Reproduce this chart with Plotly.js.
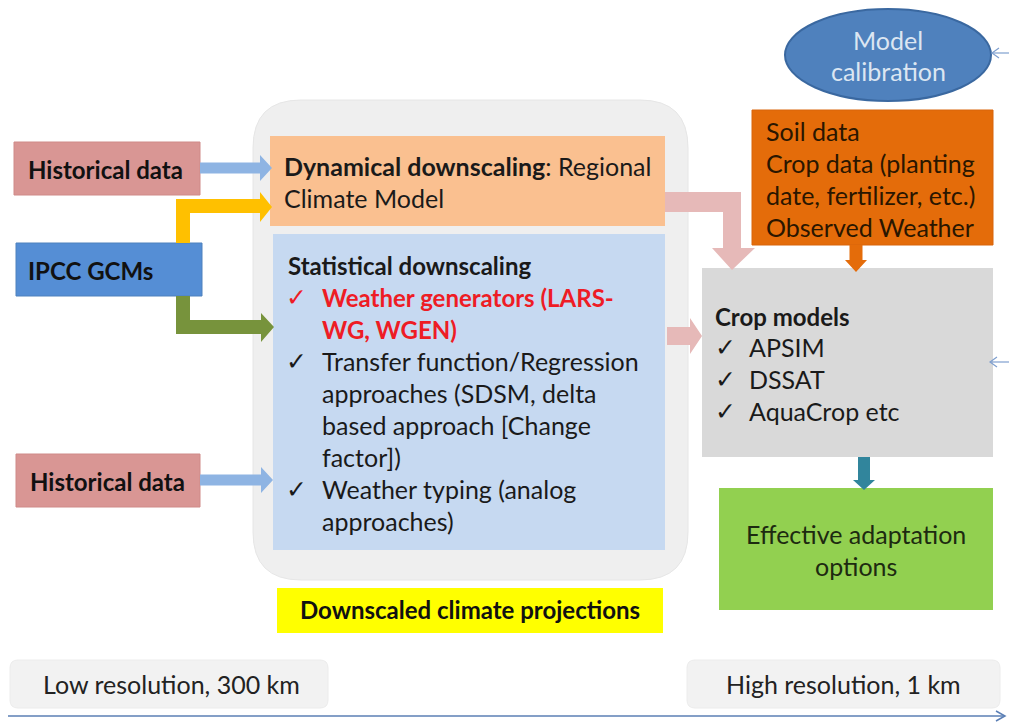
<!DOCTYPE html>
<html>
<head>
<meta charset="utf-8">
<script src="https://cdn.plot.ly/plotly-3.0.1.min.js"></script>
<style>html,body{margin:0;padding:0;background:#fff;}#chart{width:1009px;height:723px;}</style>
</head>
<body>
<div id="chart"></div>
<script>
// ---------- content (text) ----------
const inputLabels = ['Historical data', 'IPCC GCMs', 'Historical data'];
const dynLines = ['<b>Dynamical downscaling</b>: Regional', 'Climate Model'];
const statTitle = 'Statistical downscaling';
const statItems = [
  ['Weather generators (LARS-', 'WG, WGEN)'],
  ['Transfer function/Regression', 'approaches (SDSM, delta', 'based approach [Change', 'factor])'],
  ['Weather typing (analog', 'approaches)']
];
const statHighlight = [true, false, false];
const projLabel = 'Downscaled climate projections';
const calibLines = ['Model', 'calibration'];
const cropInputLines = ['Soil data', 'Crop data (planting', 'date, fertilizer, etc.)', 'Observed Weather'];
const cropTitle = 'Crop models';
const cropItems = ['APSIM', 'DSSAT', 'AquaCrop etc'];
const outputLines = ['Effective adaptation', 'options'];
const scaleLabels = ['Low resolution, 300 km', 'High resolution, 1 km'];

// ---------- geometry & style (pixel frame) ----------
const FONT = 'Lato, "Open Sans", sans-serif';
const TXT = '#1a1a1a';
const BODY = 25, BOLD = 24, CHECK = 25;
const geo = {
  container: [253, 100, 688, 580, 48],
  inputBoxes: [[14, 142, 200, 195], [16, 243, 202, 296], [16, 454, 200, 507]],
  inputColors: ['#d99694', '#558ed5', '#d99694'],
  dyn: [270, 136, 665, 226],
  stat: [273, 234, 665, 550],
  proj: [277, 588, 663, 633],
  calib: [785, 9, 991, 101],
  cropIn: [752, 110, 993, 245],
  crop: [702, 268, 993, 457],
  out: [719, 488, 993, 610],
  scaleBoxes: [[10, 660, 328, 708], [687, 660, 1000, 708]]
};
const shapes = [];
const ann = [];

function rect(b, fill, line) {
  shapes.push({type: 'rect', xref: 'x', yref: 'y', x0: b[0], y0: b[1], x1: b[2], y1: b[3],
    fillcolor: fill, line: line || {width: 0}, layer: 'below'});
}
function roundRect(b, r, fill, line) {
  const [x0, y0, x1, y1] = b;
  const p = `M ${x0 + r},${y0} L ${x1 - r},${y0} Q ${x1},${y0} ${x1},${y0 + r} L ${x1},${y1 - r} Q ${x1},${y1} ${x1 - r},${y1} L ${x0 + r},${y1} Q ${x0},${y1} ${x0},${y1 - r} L ${x0},${y0 + r} Q ${x0},${y0} ${x0 + r},${y0} Z`;
  shapes.push({type: 'path', path: p, xref: 'x', yref: 'y', fillcolor: fill, line: line || {width: 0}, layer: 'below'});
}
function poly(pts, fill) {
  const p = 'M ' + pts.map(q => q[0] + ',' + q[1]).join(' L ') + ' Z';
  shapes.push({type: 'path', path: p, xref: 'x', yref: 'y', fillcolor: fill, line: {width: 0}, layer: 'below'});
}
function arrowRight(x0, xt, yc, th, headLen, headHalf, fill) {
  poly([[x0, yc - th / 2], [xt - headLen, yc - th / 2], [xt - headLen, yc - headHalf], [xt, yc], [xt - headLen, yc + headHalf], [xt - headLen, yc + th / 2], [x0, yc + th / 2]], fill);
}
function arrowDown(xc, y0, yt, th, headLen, headHalf, fill) {
  poly([[xc - th / 2, y0], [xc - th / 2, yt - headLen], [xc - headHalf, yt - headLen], [xc, yt], [xc + headHalf, yt - headLen], [xc + th / 2, yt - headLen], [xc + th / 2, y0]], fill);
}
function text(x, y, t, size, opts) {
  opts = opts || {};
  ann.push({x: x, y: y, xref: 'x', yref: 'y', text: t, showarrow: false,
    xanchor: opts.anchor || 'left', yanchor: 'middle',
    font: {family: opts.family || FONT, size: size, color: opts.color || TXT}});
}

// container
roundRect(geo.container.slice(0, 4), geo.container[4], '#efefef', {color: '#e6e6e6', width: 1});
// boxes
geo.inputBoxes.forEach((b, i) => rect(b, geo.inputColors[i], {color: i === 1 ? '#4f81bd' : '#cf8a88', width: 1}));
rect(geo.dyn, '#fac090');
rect(geo.stat, '#c6d9f1');
rect(geo.proj, '#ffff00');
shapes.push({type: 'circle', xref: 'x', yref: 'y', x0: geo.calib[0], y0: geo.calib[1], x1: geo.calib[2], y1: geo.calib[3],
  fillcolor: '#4f81bd', line: {color: '#3a68a0', width: 2}, layer: 'below'});
rect(geo.cropIn, '#e46c0a', {color: '#d8650a', width: 1});
rect(geo.crop, '#d9d9d9');
rect(geo.out, '#92d050');
geo.scaleBoxes.forEach(b => roundRect(b, 8, '#f2f2f2', {color: '#ececec', width: 1}));

// arrows
arrowRight(200, 272, 168, 11, 12, 13, '#8eb4e3');
poly([[176, 243], [176, 199], [260, 199], [260, 192], [272, 207], [260, 222], [260, 213], [190, 213], [190, 243]], '#ffc000');
poly([[176, 296], [176, 334], [261, 334], [261, 342], [274, 327], [261, 313], [261, 320], [190, 320], [190, 296]], '#77933c');
arrowRight(200, 273, 480, 11, 12, 13, '#8eb4e3');
poly([[665, 192], [741, 192], [741, 248], [755, 248], [732, 270], [712, 248], [723, 248], [723, 212], [665, 212]], '#e6b9b8');
arrowRight(667, 702, 336, 18, 12, 18, '#e6b9b8');
arrowDown(856, 245, 272, 13, 12, 11, '#e46c0a');
arrowDown(864, 457, 490, 12, 10, 11, '#31859c');
[[1009, 992, 53], [1009, 990, 362]].forEach(a => {
  shapes.push({type: 'line', xref: 'x', yref: 'y', x0: a[0], x1: a[1], y0: a[2], y1: a[2], line: {color: '#7f9fcf', width: 1.2}});
  shapes.push({type: 'path', xref: 'x', yref: 'y', path: `M ${a[1] + 7},${a[2] - 5} L ${a[1]},${a[2]} L ${a[1] + 7},${a[2] + 5}`, line: {color: '#7f9fcf', width: 1.2}});
});
shapes.push({type: 'line', xref: 'x', yref: 'y', x0: 8, x1: 1005, y0: 716, y1: 716, line: {color: '#5b7fb5', width: 1.5}});
shapes.push({type: 'path', xref: 'x', yref: 'y', path: 'M 996,711 L 1005,716 L 996,721', line: {color: '#5b7fb5', width: 1.5}});

// texts
const inputTextX = [26, 26, 28];
geo.inputBoxes.forEach((b, i) => text(inputTextX[i], (b[1] + b[3]) / 2 + 1, '<b>' + inputLabels[i] + '</b>', BOLD, {color: '#111'}));
dynLines.forEach((t, i) => text(282, 166 + i * 32, t, BODY));
text(286, 265, '<b>' + statTitle + '</b>', BOLD);
let yy = 297;
statItems.forEach((item, k) => {
  const col = statHighlight[k] ? '#ee1c25' : TXT;
  text(284, yy, '✓', CHECK, {color: col, family: 'DejaVu Sans'});
  item.forEach((ln, j) => {
    text(320, yy, statHighlight[k] ? '<b>' + ln + '</b>' : ln, statHighlight[k] ? BOLD : BODY, {color: col});
    yy += 32;
  });
});
text(470, 609, '<b>' + projLabel + '</b>', 24, {anchor: 'center', color: '#111'});
calibLines.forEach((t, i) => text(888, 40 + i * 31, t, BODY, {anchor: 'center', color: '#dce6f2'}));
cropInputLines.forEach((t, i) => text(764, 131 + i * 32, t, BODY, {color: '#2a1600'}));
text(713, 316, '<b>' + cropTitle + '</b>', BOLD);
cropItems.forEach((t, i) => {
  text(713, 347 + i * 32, '✓', CHECK, {family: 'DejaVu Sans'});
  text(747, 347 + i * 32, t, BODY);
});
outputLines.forEach((t, i) => text(856, 534 + i * 32, t, BODY, {anchor: 'center', color: '#1d2a10'}));
geo.scaleBoxes.forEach((b, i) => text((b[0] + b[2]) / 2 + (i === 0 ? 2 : 0), (b[1] + b[3]) / 2, scaleLabels[i], BODY, {anchor: 'center', color: '#222'}));

const layout = {
  width: 1009, height: 723,
  margin: {l: 0, r: 0, t: 0, b: 0},
  paper_bgcolor: '#ffffff', plot_bgcolor: '#ffffff',
  xaxis: {range: [0, 1009], visible: false, fixedrange: true},
  yaxis: {range: [723, 0], visible: false, fixedrange: true},
  shapes: shapes, annotations: ann, showlegend: false
};
Plotly.newPlot('chart', [], layout, {displayModeBar: false, staticPlot: true});
</script>
</body>
</html>
